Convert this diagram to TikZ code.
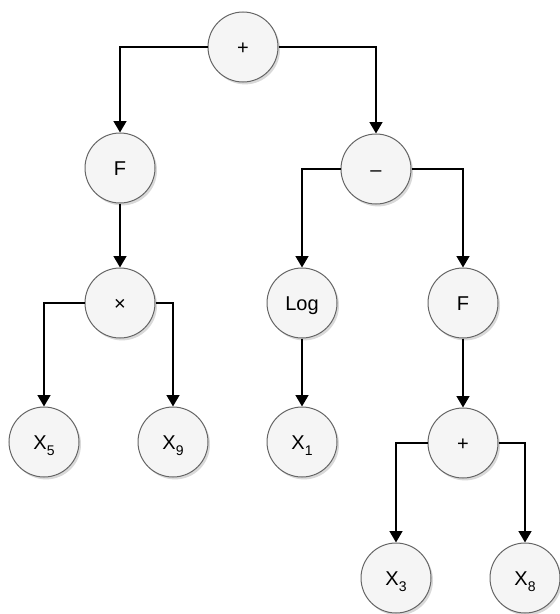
\documentclass[tikz,border=0pt]{standalone}
\usepackage{fontspec}
\setmainfont{Liberation Sans}
\usetikzlibrary{arrows.meta,shadows}
\definecolor{nodefill}{HTML}{F5F5F5}
\definecolor{nodeline}{HTML}{666666}
\newcommand\Xsub[1]{X\raisebox{-5pt}[0pt][0pt]{\fontsize{10.5}{10.5}\selectfont #1}}
\tikzset{
  opnode/.style={circle, draw=nodeline, fill=nodefill, line width=0.75pt,
    minimum size=52.5pt, inner sep=0pt, font=\fontsize{15}{15}\selectfont,
    text height=10.75pt, text depth=0pt,
    drop shadow={shadow xshift=1.5pt, shadow yshift=-1.8pt, opacity=0.25, fill=black!60}},
  edge/.style={line width=1.5pt, black, -{Triangle[length=8.5pt,width=9.5pt]}}
}
\begin{document}
\begin{tikzpicture}[x=0.75pt,y=-0.75pt]
\useasboundingbox (0,0) rectangle (560,614);
\node[opnode] (top) at (243,47) {+};
\node[opnode] (f1) at (120,168) {F};
\node[opnode] (minus) at (376,169) {–};
\node[opnode] (times) at (120,303) {×};
\node[opnode] (log) at (302,303) {Log};
\node[opnode] (f2) at (463,303) {F};
\node[opnode] (x5) at (44,442) {\Xsub{5}};
\node[opnode] (x9) at (173,442) {\Xsub{9}};
\node[opnode] (x1) at (302,442) {\Xsub{1}};
\node[opnode] (plus) at (463,443) {+};
\node[opnode] (x3) at (396,578) {\Xsub{3}};
\node[opnode] (x8) at (525,578) {\Xsub{8}};
\draw[edge] (top.west) -| (f1.north);
\draw[edge] (top.east) -| (minus.north);
\draw[edge] (f1.south) -- (times.north);
\draw[edge] (times.west) -| (x5.north);
\draw[edge] (times.east) -| (x9.north);
\draw[edge] (minus.west) -| (log.north);
\draw[edge] (minus.east) -| (f2.north);
\draw[edge] (log.south) -- (x1.north);
\draw[edge] (f2.south) -- (plus.north);
\draw[edge] (plus.west) -| (x3.north);
\draw[edge] (plus.east) -| (x8.north);
\end{tikzpicture}
\end{document}
